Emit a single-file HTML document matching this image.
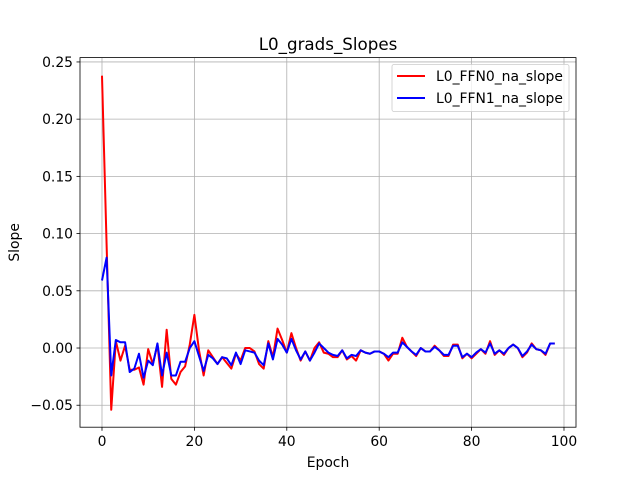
<!DOCTYPE html>
<html><head><meta charset="utf-8"><style>
body{margin:0;background:#fff;}
svg text{font-family:"DejaVu Sans","Liberation Sans",sans-serif;}
</style></head><body>
<svg id="chart" width="640" height="480" xmlns="http://www.w3.org/2000/svg">
<rect width="640" height="480" fill="#fff"/>
<g id="grid"></g><g id="series"></g><g id="axes"></g>
</svg>
<script>
const xTicks=[0,20,40,60,80,100];
const yTicks=[-0.05,0,0.05,0.10,0.15,0.20,0.25];
const yTickLabels=["−0.05","0.00","0.05","0.10","0.15","0.20","0.25"];
const redValues=[0.238,0.09,-0.054,0.006,-0.011,0.002,-0.019,-0.019,-0.017,-0.032,-0.001,-0.014,0.003,-0.034,0.016,-0.027,-0.032,-0.021,-0.016,0.003,0.029,-0.002,-0.024,-0.002,-0.008,-0.014,-0.008,-0.013,-0.018,-0.005,-0.011,0.0,0.0,-0.003,-0.014,-0.018,0.006,-0.008,0.017,0.007,-0.004,0.013,0.0,-0.011,-0.003,-0.011,0.0,0.005,-0.004,-0.005,-0.008,-0.008,-0.002,-0.01,-0.007,-0.011,-0.002,-0.004,-0.005,-0.003,-0.003,-0.005,-0.011,-0.005,-0.005,0.009,0.001,-0.003,-0.007,0.0,-0.003,-0.003,0.002,-0.002,-0.007,-0.007,0.003,0.003,-0.009,-0.005,-0.009,-0.005,-0.001,-0.005,0.006,-0.006,-0.002,-0.006,0.0,0.003,0.0,-0.008,-0.004,0.004,-0.001,-0.002,-0.006,0.004,0.004];
const blueValues=[0.059,0.079,-0.024,0.007,0.005,0.005,-0.021,-0.018,-0.005,-0.026,-0.011,-0.015,0.004,-0.024,-0.004,-0.024,-0.024,-0.012,-0.012,0.0,0.006,-0.007,-0.02,-0.006,-0.009,-0.014,-0.008,-0.009,-0.015,-0.004,-0.014,-0.002,-0.003,-0.004,-0.011,-0.015,0.004,-0.01,0.008,0.003,-0.004,0.008,-0.002,-0.01,-0.003,-0.011,-0.004,0.004,0.0,-0.004,-0.006,-0.007,-0.002,-0.009,-0.006,-0.007,-0.002,-0.004,-0.005,-0.003,-0.003,-0.005,-0.008,-0.004,-0.004,0.005,0.001,-0.003,-0.006,0.0,-0.003,-0.003,0.001,-0.002,-0.006,-0.006,0.002,0.002,-0.008,-0.005,-0.008,-0.004,-0.001,-0.004,0.004,-0.005,-0.002,-0.005,0.0,0.003,0.0,-0.007,-0.003,0.003,-0.001,-0.002,-0.005,0.004,0.004];
const seriesNames=["L0_FFN0_na_slope","L0_FFN1_na_slope"];
const L=80,R=576,T=57.6,B=427.2;
const xMin=-4.76,xMax=102.6,yMin=-0.0692,yMax=0.2538;
const xs=v=>L+(v-xMin)/(xMax-xMin)*(R-L);
const ys=v=>B-(v-yMin)/(yMax-yMin)*(B-T);
const NS="http://www.w3.org/2000/svg";
function mk(tag,attrs,parent,text){const e=document.createElementNS(NS,tag);for(const k in attrs)e.setAttribute(k,attrs[k]);if(text!==undefined)e.textContent=text;parent.appendChild(e);return e;}
const grid=document.getElementById('grid'),ser=document.getElementById('series'),ax=document.getElementById('axes');
xTicks.forEach(t=>{const x=xs(t);
 const g=mk('line',{x1:x,x2:x,y1:T,y2:B,stroke:'#b0b0b0','stroke-width':0.8},grid);
 
 mk('line',{x1:x,x2:x,y1:B,y2:B+3.5,stroke:'#000','stroke-width':0.8},ax);
 const l=mk('text',{x:x,y:B+19,'font-size':13.9,'text-anchor':'middle'},ax,String(t));
 });
yTicks.forEach((t,i)=>{const y=ys(t);
 const g=mk('line',{x1:L,x2:R,y1:y,y2:y,stroke:'#b0b0b0','stroke-width':0.8},grid);
 
 mk('line',{x1:L-3.5,x2:L,y1:y,y2:y,stroke:'#000','stroke-width':0.8},ax);
 const l=mk('text',{x:L-7,y:y+5,'font-size':13.9,'text-anchor':'end'},ax,yTickLabels[i]);
 });
[[redValues,'#ff0000','red-series'],[blueValues,'#0000ff','blue-series']].forEach(([vals,c,n])=>{
 const p=mk('polyline',{points:vals.map((v,i)=>xs(i)+','+ys(v)).join(' '),fill:'none',stroke:c,'stroke-width':2,'stroke-linejoin':'round'},ser);
 });
const fr=mk('rect',{x:L,y:T,width:R-L,height:B-T,fill:'none',stroke:'#000','stroke-width':0.8},ax);

const ti=mk('text',{x:(L+R)/2,y:50,'font-size':16.7,'text-anchor':'middle'},ax,'L0_grads_Slopes');

const xt=mk('text',{x:(L+R)/2,y:467,'font-size':13.9,'text-anchor':'middle'},ax,'Epoch');

const yt=mk('text',{x:19,y:(T+B)/2,'font-size':13.9,'text-anchor':'middle',transform:'rotate(-90 19 '+((T+B)/2)+')'},ax,'Slope');

const lg=mk('rect',{x:392,y:64.5,width:177,height:47,rx:2,fill:'#fff','fill-opacity':0.8,stroke:'#cccccc','stroke-width':0.8},ax);

['#ff0000','#0000ff'].forEach((c,i)=>{const y=76+i*22;
 const s=mk('line',{x1:397,x2:425,y1:y,y2:y,stroke:c,'stroke-width':2},ax);
 
 const t=mk('text',{x:436,y:y+5,'font-size':13.9},ax,seriesNames[i]);
 });
</script>
</body></html>
